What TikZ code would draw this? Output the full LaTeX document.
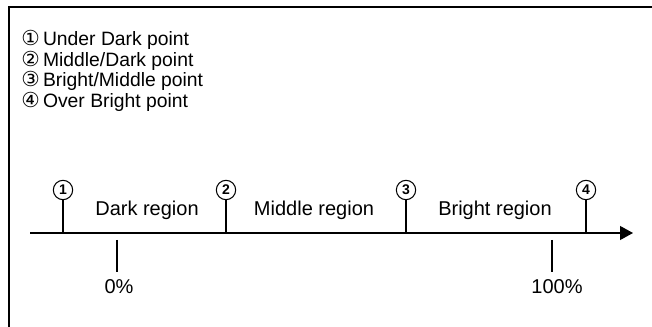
\documentclass[tikz,border=0pt]{standalone}
\usepackage{fontspec}
\setmainfont{Liberation Sans}
\newfontfamily\circfont{DejaVu Sans}
\newcommand{\cnum}[1]{{\circfont\fontsize{15.5}{13}\selectfont #1}\,}
\usetikzlibrary{arrows.meta}

\begin{document}
\begin{tikzpicture}[x=0.75pt,y=-0.75pt]
    \pgfmathsetmacro{\axisy}{233}
    \pgfmathsetmacro{\ringy}{190}
    \tikzset{every node/.style={font=\fontsize{15}{18}\selectfont,inner sep=0pt}}
    \tikzset{ring/.style={circle,draw,line width=0.8pt,minimum size=14.5pt,font=\fontsize{10.5}{10}\selectfont\bfseries}}
    \tikzset{legend/.style={anchor=north west,align=left,font=\fontsize{14.5}{13}\selectfont}}
    \useasboundingbox (0,0) rectangle (652,327);
    \draw[line width=1.5pt] (8.5,327) -- (8.5,7.5) -- (652,7.5);
    \node[legend] (K) at (21,30) {\cnum{①}Under Dark point\\ \cnum{②}Middle/Dark point\\ \cnum{③}Bright/Middle point\\ \cnum{④}Over Bright point};
    \coordinate (AL) at (30,\axisy);
    \coordinate (AR) at (633,\axisy);
    \draw[line width=0.9pt,-{Triangle[length=9.75pt,width=10.5pt]}] (AL) -- (AR);
    \coordinate (T1) at (63,\axisy);
\coordinate (T2) at (226,\axisy);
\coordinate (T3) at (406,\axisy);
\coordinate (T4) at (586,\axisy);
    \node[ring] (P1) at (63,\ringy) {1};
\node[ring] (P2) at (226,\ringy) {2};
\node[ring] (P3) at (406,\ringy) {3};
\node[ring] (P4) at (586,\ringy) {4};
    \draw[line width=0.9pt] (T1) -- (P1);
\draw[line width=0.9pt] (T2) -- (P2);
\draw[line width=0.9pt] (T3) -- (P3);
\draw[line width=0.9pt] (T4) -- (P4);
    \node (D) at (147,210) {Dark region};
\node (M) at (314,210) {Middle region};
\node (B) at (495,210) {Bright region};
    \coordinate (Z0) at (117,240);
\coordinate (Z1) at (117,272);
\coordinate (H0) at (552,240);
\coordinate (H1) at (552,272);
    \draw[line width=0.9pt] (Z0) -- (Z1);
\draw[line width=0.9pt] (H0) -- (H1);
    \node (Z) at (119,287) {0\%};
\node (H) at (557,287) {100\%};
\end{tikzpicture}
\end{document}
